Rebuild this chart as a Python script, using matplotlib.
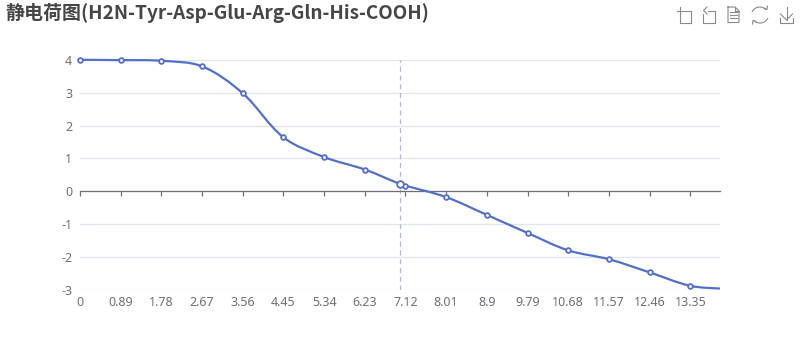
import matplotlib
matplotlib.use('Agg')
import matplotlib.pyplot as plt
from matplotlib.lines import Line2D
from matplotlib.patches import Arc, PathPatch
from matplotlib.path import Path
from matplotlib.transforms import Affine2D

plt.rcParams['font.family'] = ['Noto Sans CJK SC', 'DejaVu Sans']

title = '静电荷图(H2N-Tyr-Asp-Glu-Arg-Gln-His-COOH)'

ph = [0, 0.89, 1.78, 2.67, 3.56, 4.45, 5.34, 6.23, 7.0, 7.12, 8.01, 8.9, 9.79, 10.68, 11.57, 12.46, 13.35, 14]
charge = [4.0, 3.99, 3.97, 3.80, 2.98, 1.64, 1.04, 0.66, 0.22, 0.17, -0.18, -0.72, -1.27, -1.80, -2.07, -2.47, -2.88, -2.96]

pi_ph = 7.0
pi_charge = 0.22

x_ticks = [0, 0.89, 1.78, 2.67, 3.56, 4.45, 5.34, 6.23, 7.12, 8.01, 8.9, 9.79, 10.68, 11.57, 12.46, 13.35]
x_labels = ['0', '0.89', '1.78', '2.67', '3.56', '4.45', '5.34', '6.23', '7.12', '8.01', '8.9', '9.79', '10.68', '11.57', '12.46', '13.35']
y_ticks = [-3, -2, -1, 0, 1, 2, 3, 4]
y_labels = ['-3', '-2', '-1', '0', '1', '2', '3', '4']

LINE = '#5470C6'
AXIS = '#6E7079'
GRID = '#E0E6F1'
ICON = '#8a8a8a'


def smooth_path(xs, ys, smooth=0.34):
    # same idea as the echarts smooth line, bezier through the points
    sx = 640 / 14
    sy = 230 / 7
    n = len(xs)
    verts = [(xs[0], ys[0])]
    codes = [Path.MOVETO]
    out = [(xs[0], ys[0])]
    inc = [(xs[0], ys[0])]
    for i in range(1, n - 1):
        dx = xs[i + 1] - xs[i - 1]
        dy = ys[i + 1] - ys[i - 1]
        prev_len = ((xs[i] - xs[i - 1]) * sx) ** 2 + ((ys[i] - ys[i - 1]) * sy) ** 2
        next_len = ((xs[i + 1] - xs[i]) * sx) ** 2 + ((ys[i + 1] - ys[i]) * sy) ** 2
        prev_len = prev_len ** 0.5
        next_len = next_len ** 0.5
        r = next_len / (prev_len + next_len)
        inc.append((xs[i] - dx * smooth * (1 - r), ys[i] - dy * smooth * (1 - r)))
        out.append((xs[i] + dx * smooth * r, ys[i] + dy * smooth * r))
    inc.append((xs[-1], ys[-1]))
    out.append((xs[-1], ys[-1]))
    for i in range(1, n):
        verts += [out[i - 1], inc[i], (xs[i], ys[i])]
        codes += [Path.CURVE4, Path.CURVE4, Path.CURVE4]
    return Path(verts, codes)


fig = plt.figure(figsize=(8, 3.6), dpi=100)
ax = fig.add_axes([80 / 800, 1 - 289.8 / 360, 640 / 800, 230 / 360])
ax.set_xlim(0, 14)
ax.set_ylim(-3, 4)

for s in ['top', 'right', 'left']:
    ax.spines[s].set_visible(False)
ax.spines['bottom'].set_position(('data', 0))
ax.spines['bottom'].set_color(AXIS)
ax.spines['bottom'].set_linewidth(0.9)

ax.set_yticks(y_ticks)
ax.set_yticklabels(y_labels, family='Noto Sans')
ax.set_xticks(x_ticks)
ax.set_xticklabels(x_labels, family='Noto Sans')
ax.tick_params(axis='y', length=0, pad=5.5, labelsize=9, labelcolor=AXIS)
ax.tick_params(axis='x', length=3.6, width=0.9, color=AXIS, pad=72, labelsize=9, labelcolor=AXIS)
ax.grid(axis='y', color=GRID, linewidth=0.9)
ax.set_axisbelow(True)

ax.axvline(pi_ph, color='#B4B8CC', linewidth=0.9, linestyle=(0, (4, 3)), zorder=2)

ax.add_patch(PathPatch(smooth_path(ph, charge), facecolor='none', edgecolor=LINE, linewidth=1.6, zorder=3, clip_on=False))
ax.plot(ph[:-1], charge[:-1], linestyle='none', marker='o', markersize=3.4, markerfacecolor='white',
        markeredgecolor=LINE, markeredgewidth=1.3, zorder=4, clip_on=False)
ax.plot([pi_ph], [pi_charge], linestyle='none', marker='o', markersize=4.8, markerfacecolor='white',
        markeredgecolor=LINE, markeredgewidth=1.3, zorder=5, clip_on=False)

fig.text(5 / 800, 1 - 13 / 360, title, fontsize=13.65, fontweight='bold', color='#464646', ha='left', va='center')

# toolbox icons, in pixel coords of the 800x360 canvas
px = Affine2D().scale(1 / 800, -1 / 360).translate(0, 1) + fig.transFigure


def icon(xs, ys):
    fig.add_artist(Line2D(xs, ys, color=ICON, linewidth=0.8, transform=px))


# crop
icon([676.5, 691, 691], [10.5, 10.5, 22.5])
icon([679.5, 679.5, 691], [7, 22.5, 22.5])
# restore
icon([708, 715, 715, 703, 703], [10.5, 10.5, 22.5, 22.5, 14])
icon([707, 703.5, 707], [7, 10.5, 14])
# data view
icon([728, 735, 739, 739, 728, 728], [7, 7, 11, 22.5, 22.5, 7])
icon([735, 735, 739], [7, 11, 11])
for yy in [12, 15, 18]:
    icon([730, 737], [yy, yy])
# refresh
for t1, t2 in [(200, 320), (20, 140)]:
    fig.add_artist(Arc((760, 15), 17, 16, theta1=t1, theta2=t2, color=ICON, linewidth=0.8, transform=px))
icon([764, 767, 767.5], [8.5, 9.5, 6])
icon([756, 753, 752.5], [21.5, 20.5, 24])
# save
icon([786.5, 786.5], [7, 20])
icon([780.5, 786.5, 792.5], [14, 20, 14])
icon([779.5, 779.5, 793, 793], [18, 23, 23, 18])

fig.savefig('out.png', dpi=100)
